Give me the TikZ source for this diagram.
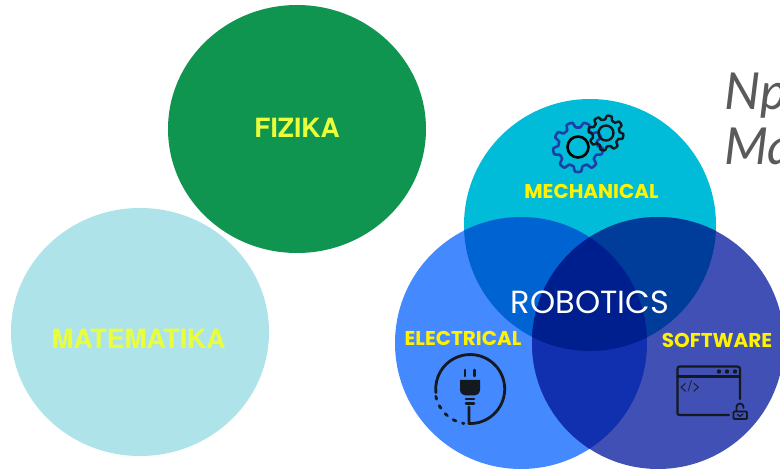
\documentclass[tikz,border=0pt]{standalone}
\usepackage{fontspec}
\setmainfont{Liberation Sans}
\newfontfamily\subj[BoldFont={TeX Gyre Heros Bold}]{TeX Gyre Heros}
\newfontfamily\venn{Poppins}
\newfontfamily\hand{Lato}
\definecolor{cFiz}{HTML}{109550}
\definecolor{cMat}{HTML}{AEE4E9}
\definecolor{cMech}{HTML}{00BCD8}
\definecolor{cElec}{HTML}{4589FF}
\definecolor{cSoft}{HTML}{4050B5}
\definecolor{cME}{HTML}{0063D2}
\definecolor{cMS}{HTML}{003C9A}
\definecolor{cES}{HTML}{1030B0}
\definecolor{cAll}{HTML}{001F8F}
\definecolor{cYel}{HTML}{E9FF3C}
\definecolor{cHand}{HTML}{5A5A5A}
\definecolor{cIcon}{HTML}{14181F}
\definecolor{cGear}{HTML}{1F3FA8}
\tikzset{
  subjectlabel/.style={font=\subj\bfseries\fontsize{26.5}{28}\selectfont,text=cYel},
  vennlabel/.style={font=\venn\bfseries\fontsize{20}{22}\selectfont,text=yellow},
  handlabel/.style={font=\hand\itshape\fontsize{51}{58}\selectfont,text=cHand,anchor=base west,inner sep=0pt},
  icon/.style={draw=cIcon,line width=2.2pt,line cap=round,line join=round},
  plugline/.style={icon,line width=2.8pt},
}
\begin{document}
\begin{tikzpicture}[x=1pt,y=-1pt]
\useasboundingbox (0,0) rectangle (780,470);
\fill[white] (0,0) rectangle (780,470);
\clip (0,0) rectangle (780,470);
% subject circles
\fill[cFiz] (297,129) ellipse [x radius=129,y radius=124];
\fill[cMat] (140,332) ellipse [x radius=129,y radius=124];
% venn
\def\M{(590,225) circle [radius=126]}
\def\E{(521,343) circle [radius=126]}
\def\S{(658,343) circle [radius=126]}
\fill[cMech] \M;
\fill[cElec] \E;
\fill[cSoft] \S;
\begin{scope}\clip \M; \fill[cME] \E; \end{scope}
\begin{scope}\clip \M; \fill[cMS] \S; \end{scope}
\begin{scope}\clip \E; \fill[cES] \S; \end{scope}
\begin{scope}\clip \M; \clip \E; \fill[cAll] \S; \end{scope}
% labels
\node[subjectlabel] (fizika) at (297,128) {FIZIKA};
\node[subjectlabel] (matematika) at (138.5,339) {MATEMATIKA};
\node[vennlabel] (mechanical) at (591.5,191) {MECHANICAL};
\node[vennlabel] (electrical) at (463,338) {ELECTRICAL};
\node[vennlabel] (software) at (717,340) {SOFTWARE};
\node[font=\venn\fontsize{32}{34}\selectfont,text=white] (robotics) at (590,302) {ROBOTICS};
% handwriting
\node[handlabel] (npr) at (724,110) {Npr};
\node[handlabel] (ma) at (724,165) {Ma};
% gears
\begin{scope}[shift={(578,147)}]
  \draw[cGear,line width=2.6pt,line join=round]
    plot[samples=145,domain=0:360,smooth] (\x:{19.5+5.5*(0.5+0.5*tanh(3*sin(9*\x)))}) -- cycle;
  \draw[black,line width=2.6pt] (0,0) circle [radius=10.5];
\end{scope}
\begin{scope}[shift={(606,133)}]
  \draw[cIcon,line width=2.4pt,line join=round]
    plot[samples=145,domain=0:360,smooth] (\x:{13.5+4*(0.5+0.5*tanh(3*sin(8*\x)))}) -- cycle;
  \draw[cIcon,line width=2.4pt] (0,0) circle [radius=7.5];
\end{scope}
% plug icon
\begin{scope}
  \draw[plugline] (469,407) -- (469,423.5)
     arc [start angle=92,end angle=-186,radius=34.5];
  \draw[plugline,dash pattern=on 3pt off 7pt]
     (435.8,396.3) arc [start angle=168,end angle=100,radius=35];
  \fill[cIcon] (460,380) -- (480,380) -- (480,390)
     .. controls (480,394) and (476,395.5) .. (473,395.5) -- (467,395.5)
     .. controls (464,395.5) and (460,394) .. (460,390) -- cycle;
  \draw[plugline] (465,370) -- (465,376) (474.5,370) -- (474.5,376);
  \draw[plugline] (466,399) -- (474,399) (466,403.5) -- (474,403.5);
\end{scope}
% software icon
\begin{scope}
  \draw[icon] (729,415) -- (680,415) .. controls (678,415) and (677.5,414.5) .. (677.5,413)
     -- (677.5,369) .. controls (677.5,367) and (678,366.5) .. (680,366.5)
     -- (737,366.5) .. controls (739,366.5) and (740,367) .. (740,369) -- (740,399);
  \draw[icon] (677.5,376.5) -- (740,376.5);
  \foreach \dx in {719,727,735}{ \fill[cIcon] (\dx,371.5) circle [radius=2.2]; }
  \node[font=\subj\fontsize{15}{16}\selectfont,text=cIcon,inner sep=0pt] (code) at (690,386.5) {</>};
  \draw[icon,line width=1.8pt,rounded corners=1pt] (733.5,411.5) rectangle (747,419);
  \draw[icon,line width=1.8pt] (736.5,411) -- (736.5,407) arc [start angle=180,end angle=360,radius=3.5] -- (743.5,408);
  \draw[icon,line width=1.3pt] (737.5,414.5) -- (740,416.5) -- (743,414);
\end{scope}
\end{tikzpicture}
\end{document}
